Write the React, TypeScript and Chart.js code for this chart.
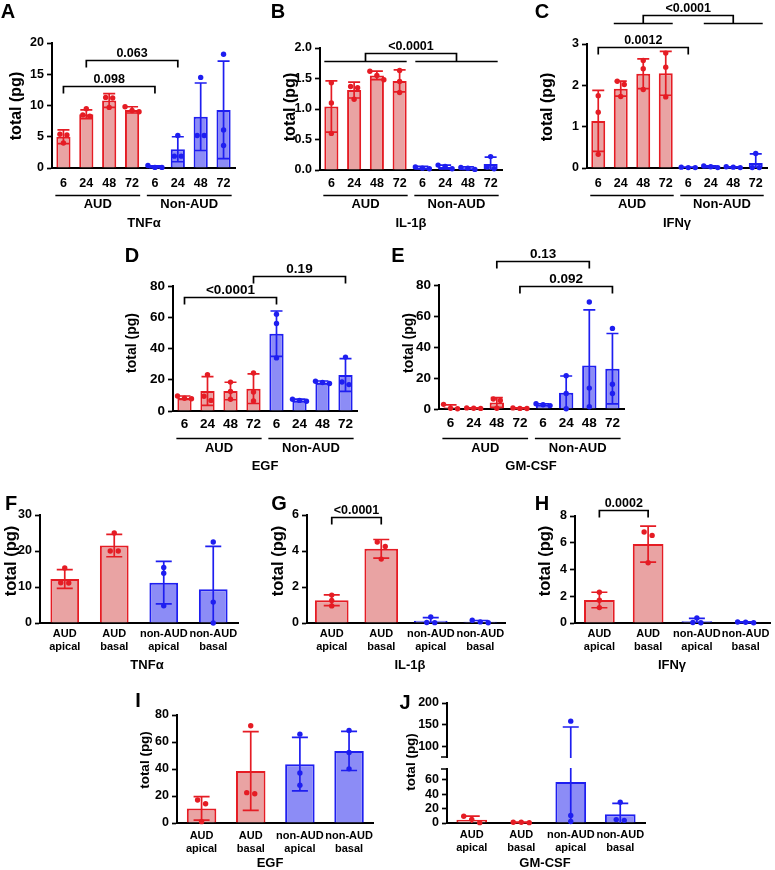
import React, { useEffect, useRef } from 'react';
import { Chart, registerables, LinearScale } from 'chart.js';

Chart.register(...registerables);

const FONT = "'Liberation Sans', Arial, Helvetica, sans-serif";
Chart.defaults.font.family = FONT;

const RED = 'rgb(229,28,36)';
const RED_FILL = 'rgb(233,163,163)';
const BLUE = 'rgb(30,30,240)';
const BLUE_FILL = 'rgb(140,140,246)';

// ---------- categories ----------
const timeCats = ['6', '24', '48', '72', '6', '24', '48', '72'];
const timeGroups = [0, 0, 0, 0, 1, 1, 1, 1];
const siteCats = [['AUD', 'apical'], ['AUD', 'basal'], ['non-AUD', 'apical'], ['non-AUD', 'basal']];
const siteGroups = [0, 0, 1, 1];
const groupNames = ['AUD', 'Non-AUD'];

// ---------- A: TNFα time course ----------
const aMeans = [5.0, 8.6, 10.8, 9.3, 0.2, 3.0, 8.2, 9.3];
const aSD = [1.1, 0.7, 1.1, 0.5, 0.15, 2.0, 5.4, 7.8];
const aPoints = [[5.3, 5.4, 4.0], [9.5, 8.5, 8.3], [11.3, 11.2, 9.7], [9.8, 9.2, 9.0], [0.4, 0.1, 0.1], [5.2, 1.9, 1.9], [14.5, 5.2, 5.2], [18.2, 6.1, 3.6]];
const aTicks = [0, 5, 10, 15, 20];

// ---------- B: IL-1β time course ----------
const bMeans = [1.04, 1.31, 1.55, 1.46, 0.04, 0.05, 0.03, 0.1];
const bSD = [0.42, 0.13, 0.07, 0.18, 0.02, 0.03, 0.02, 0.11];
const bPoints = [[1.43, 1.1, 0.6], [1.37, 1.35, 1.16], [1.62, 1.55, 1.48], [1.63, 1.45, 1.27], [0.05, 0.03, 0.02], [0.08, 0.06, 0.02], [0.04, 0.03, 0.01], [0.22, 0.05, 0.02]];
const bTicks = [0, 0.5, 1.0, 1.5, 2.0];

// ---------- C: IFNγ time course ----------
const cMeans = [1.14, 1.92, 2.28, 2.29, 0.01, 0.03, 0.02, 0.12];
const cSD = [0.74, 0.18, 0.36, 0.53, 0.01, 0.02, 0.01, 0.22];
const cPoints = [[1.75, 1.35, 0.33], [2.1, 2.02, 1.73], [2.6, 2.4, 1.9], [2.78, 2.44, 1.72], [0.02, 0.01, 0.01], [0.05, 0.03, 0.01], [0.03, 0.02, 0.01], [0.35, 0.01, 0.01]];
const cTicks = [0, 1, 2, 3];

// ---------- D: EGF time course ----------
const dMeans = [8.5, 12.8, 12.8, 14.3, 49.5, 6.8, 18.3, 23.0];
const dSD = [1.1, 9.2, 5.6, 9.5, 14.5, 0.8, 0.9, 10.5];
const dPoints = [[9.6, 8.2, 7.8], [23.3, 9.4, 6.8], [18.5, 12.5, 7.5], [24.4, 12.2, 6.4], [62, 56, 34], [7.5, 6.8, 6.2], [19, 18.2, 17.6], [34.5, 16.9, 18.6]];
const dTicks = [0, 20, 40, 60, 80];

// ---------- E: GM-CSF time course ----------
const eMeans = [1.2, 0.5, 4.2, 0.5, 2.8, 10.5, 28, 26];
const eSD = [1.5, 0.2, 3.2, 0.2, 0.6, 10.8, 36, 22.7];
const ePoints = [[3.0, 0.5, 0.2], [0.7, 0.5, 0.4], [6.5, 5.5, 0.5], [0.7, 0.4, 0.3], [3.4, 2.7, 2.2], [21.5, 10, 0.2], [69, 13.5, 1.5], [52, 16, 10]];
const eTicks = [0, 20, 40, 60, 80];

// ---------- F: TNFα apical/basal ----------
const fMeans = [12.2, 21.5, 11.2, 9.4];
const fSD = [2.6, 3.1, 5.9, 11.9];
const fPoints = [[15.3, 11.1, 11.2], [25, 20, 20], [15.4, 13.8, 4.8], [22.5, 5.8, 0]];
const fTicks = [0, 10, 20, 30];

// ---------- G: IL-1β apical/basal ----------
const gMeans = [1.26, 4.12, 0.13, 0.07];
const gSD = [0.3, 0.52, 0.17, 0.07];
const gPoints = [[1.55, 1.25, 0.95], [4.5, 4.25, 3.55], [0.33, 0.03, 0.02], [0.15, 0.06, 0.01]];
const gTicks = [0, 2, 4, 6];

// ---------- H: IFNγ apical/basal ----------
const hMeans = [1.72, 5.9, 0.14, 0.05];
const hSD = [0.58, 1.35, 0.2, 0.03];
const hPoints = [[2.3, 1.7, 1.15], [6.8, 6.55, 4.5], [0.38, 0.04, 0.02], [0.08, 0.06, 0.02]];
const hTicks = [0, 2, 4, 6, 8];

// ---------- I: EGF apical/basal ----------
const iMeans = [10.8, 38.5, 43.6, 53.4];
const iSD = [8.7, 29.2, 19.8, 14.5];
const iPoints = [[17, 14.3, 1], [72, 22.5, 21.7], [65.8, 37, 28], [68.6, 52.2, 40.1]];
const iTicks = [0, 20, 40, 60, 80];

// ---------- J: GM-CSF apical/basal (broken axis) ----------
const jMeans = [4.5, 0.8, 56.8, 12.3];
const jSD = [5.0, 0.3, 87.7, 15];
const jPoints = [[9.3, 5.1, 0.5], [1.1, 1.0, 0.5], [158, 10.5, 2], [28.8, 3.7, 4.7]];
const jTicks = [0, 20, 40, 60, 100, 150, 200];
const J_BREAK = 75;
const J_LOW_FRAC = 0.45;
const J_GAP_FRAC = 0.1;

class BrokenLinearScale extends LinearScale {
  static id = 'brokenLinear';
  static defaults = {};
  getPixelForValue(value: any) {
    if (value === null || value === undefined || isNaN(value)) return NaN;
    const min = (this as any).min, max = (this as any).max;
    const top = (this as any).top, bottom = (this as any).bottom;
    const h = bottom - top;
    const low = h * J_LOW_FRAC, gap = h * J_GAP_FRAC, high = h - low - gap;
    if (value <= J_BREAK) return bottom - ((value - min) / (J_BREAK - min)) * low;
    return bottom - low - gap - ((value - J_BREAK) / (max - J_BREAK)) * high;
  }
  getValueForPixel(pixel: number) {
    const min = (this as any).min, max = (this as any).max;
    const top = (this as any).top, bottom = (this as any).bottom;
    const h = bottom - top;
    const low = h * J_LOW_FRAC, gap = h * J_GAP_FRAC, high = h - low - gap;
    const d = bottom - pixel;
    if (d <= low) return min + (d / low) * (J_BREAK - min);
    return J_BREAK + ((d - low - gap) / high) * (max - J_BREAK);
  }
}
Chart.register(BrokenLinearScale as any);

type Bracket = { a: number; b: number; y: number; text: string };
type GroupBracket = { g1: [number, number]; g2: [number, number]; y1: number; y2: number; text: string };

type PanelDef = {
  letter: string;
  box: { x: number; y: number; w: number; h: number };
  area: { l: number; t: number; r: number; b: number };
  cats: any[];
  groups: number[];
  means: number[];
  sds: number[];
  points: number[][];
  ticks: number[];
  decimals: number;
  broken?: boolean;
  yTickSize: number;
  xTickSize: number;
  xPad: number;
  barPct: number;
  capHalf: number;
  swarmStep: number;
  letterPos: [number, number];
  titlePos: [number, number, number];
  cyto: [string, number, number];
  groupLine?: [number, number];
  brackets?: Bracket[];
  groupBrackets?: GroupBracket[];
};

const PANELS: PanelDef[] = [
  {
    letter: 'A', box: { x: 0, y: 0, w: 250, h: 235 }, area: { l: 52, t: 43, r: 235, b: 168 },
    cats: timeCats, groups: timeGroups, means: aMeans, sds: aSD, points: aPoints, ticks: aTicks, decimals: 0,
    yTickSize: 12.5, xTickSize: 12.5, xPad: 8, barPct: 0.62, capHalf: 6, swarmStep: 7,
    letterPos: [8, 11], titlePos: [16.5, 106, 16], cyto: ['TNFα', 144, 223], groupLine: [195, 203],
    brackets: [{ a: 1, b: 5, y: 17.3, text: '0.063' }, { a: 0, b: 4, y: 13.1, text: '0.098' }],
  },
  {
    letter: 'B', box: { x: 255, y: 0, w: 255, h: 235 }, area: { l: 320, t: 48, r: 502, b: 170 },
    cats: timeCats, groups: timeGroups, means: bMeans, sds: bSD, points: bPoints, ticks: bTicks, decimals: 1,
    yTickSize: 12.5, xTickSize: 12.5, xPad: 6, barPct: 0.62, capHalf: 6, swarmStep: 7,
    letterPos: [278, 11], titlePos: [291, 107, 16], cyto: ['IL-1β', 411, 223], groupLine: [195, 203],
    groupBrackets: [{ g1: [0, 3], g2: [4, 7], y1: 1.787, y2: 1.918, text: '<0.0001' }],
  },
  {
    letter: 'C', box: { x: 510, y: 0, w: 265, h: 235 }, area: { l: 587, t: 44, r: 767, b: 168 },
    cats: timeCats, groups: timeGroups, means: cMeans, sds: cSD, points: cPoints, ticks: cTicks, decimals: 0,
    yTickSize: 12.5, xTickSize: 12.5, xPad: 8, barPct: 0.62, capHalf: 6, swarmStep: 7,
    letterPos: [542, 11], titlePos: [548, 107, 16], cyto: ['IFNγ', 677, 223], groupLine: [195, 203],
    brackets: [{ a: 0, b: 4, y: 2.93, text: '0.0012' }],
    groupBrackets: [{ g1: [1, 3], g2: [5, 7], y1: 3.51, y2: 3.7, text: '<0.0001' }],
  },
  {
    letter: 'D', box: { x: 120, y: 240, w: 250, h: 235 }, area: { l: 173, t: 286, r: 357, b: 411 },
    cats: timeCats, groups: timeGroups, means: dMeans, sds: dSD, points: dPoints, ticks: dTicks, decimals: 0,
    yTickSize: 13.5, xTickSize: 13.5, xPad: 5.5, barPct: 0.62, capHalf: 6, swarmStep: 7,
    letterPos: [132, 255], titlePos: [132, 343, 14], cyto: ['EGF', 265, 466], groupLine: [438, 447],
    brackets: [{ a: 0, b: 4, y: 73, text: '<0.0001' }, { a: 3, b: 7, y: 86.4, text: '0.19' }],
  },
  {
    letter: 'E', box: { x: 385, y: 240, w: 250, h: 235 }, area: { l: 439, t: 285, r: 624, b: 409 },
    cats: timeCats, groups: timeGroups, means: eMeans, sds: eSD, points: ePoints, ticks: eTicks, decimals: 0,
    yTickSize: 13.5, xTickSize: 13.5, xPad: 7, barPct: 0.62, capHalf: 6, swarmStep: 7,
    letterPos: [398, 255], titlePos: [409, 343, 14], cyto: ['GM-CSF', 531, 466], groupLine: [438, 447],
    brackets: [{ a: 2, b: 6, y: 95.5, text: '0.13' }, { a: 3, b: 7, y: 79.4, text: '0.092' }],
  },
  {
    letter: 'F', box: { x: 0, y: 490, w: 250, h: 185 }, area: { l: 40, t: 515, r: 238, b: 623 },
    cats: siteCats, groups: siteGroups, means: fMeans, sds: fSD, points: fPoints, ticks: fTicks, decimals: 0,
    yTickSize: 12.5, xTickSize: 11, xPad: 4.5, barPct: 0.58, capHalf: 8, swarmStep: 8,
    letterPos: [11, 503], titlePos: [11, 561, 16.5], cyto: ['TNFα', 147, 665],
  },
  {
    letter: 'G', box: { x: 255, y: 490, w: 255, h: 185 }, area: { l: 307, t: 515, r: 505, b: 623 },
    cats: siteCats, groups: siteGroups, means: gMeans, sds: gSD, points: gPoints, ticks: gTicks, decimals: 0,
    yTickSize: 12.5, xTickSize: 11, xPad: 4.5, barPct: 0.68, capHalf: 8, swarmStep: 8,
    letterPos: [279, 503], titlePos: [278, 561, 16.5], cyto: ['IL-1β', 410, 665],
    brackets: [{ a: 0, b: 1, y: 5.89, text: '<0.0001' }],
  },
  {
    letter: 'H', box: { x: 510, y: 490, w: 265, h: 185 }, area: { l: 575, t: 516, r: 770, b: 623 },
    cats: siteCats, groups: siteGroups, means: hMeans, sds: hSD, points: hPoints, ticks: hTicks, decimals: 0,
    yTickSize: 12.5, xTickSize: 11, xPad: 4.5, barPct: 0.63, capHalf: 8, swarmStep: 8,
    letterPos: [542, 503], titlePos: [545, 561, 16.5], cyto: ['IFNγ', 672, 665],
    brackets: [{ a: 0, b: 1, y: 8.45, text: '0.0002' }],
  },
  {
    letter: 'I', box: { x: 120, y: 690, w: 260, h: 180 }, area: { l: 177, t: 715, r: 375, b: 823 },
    cats: siteCats, groups: siteGroups, means: iMeans, sds: iSD, points: iPoints, ticks: iTicks, decimals: 0,
    yTickSize: 12.5, xTickSize: 11, xPad: 6.5, barPct: 0.6, capHalf: 8, swarmStep: 8,
    letterPos: [138, 700], titlePos: [145, 760, 13.5], cyto: ['EGF', 270, 863],
  },
  {
    letter: 'J', box: { x: 385, y: 690, w: 270, h: 180 }, area: { l: 447, t: 703, r: 645, b: 823 },
    cats: siteCats, groups: siteGroups, means: jMeans, sds: jSD, points: jPoints, ticks: jTicks, decimals: 0,
    broken: true,
    yTickSize: 12.5, xTickSize: 11, xPad: 5.5, barPct: 0.62, capHalf: 8, swarmStep: 8,
    letterPos: [405, 702], titlePos: [411, 762, 13.5], cyto: ['GM-CSF', 545, 863],
  },
];

function swarmOffsets(ys: number[], step: number, thr: number): number[] {
  const idx = ys.map((_, i) => i).sort((a, b) => ys[a] - ys[b]);
  const offs = new Array(ys.length).fill(0);
  let cluster: number[] = [];
  const flush = () => {
    const n = cluster.length;
    cluster.forEach((k, j) => { offs[k] = (j - (n - 1) / 2) * step; });
    cluster = [];
  };
  for (const i of idx) {
    if (cluster.length && ys[i] - ys[cluster[cluster.length - 1]] > thr) flush();
    cluster.push(i);
  }
  flush();
  return offs;
}

function buildChart(canvas: HTMLCanvasElement, p: PanelDef) {
  const yw = p.area.l - p.box.x;
  const xh = p.box.y + p.box.h - p.area.b;
  const padTop = p.area.t - p.box.y;
  const padRight = p.box.x + p.box.w - p.area.r;
  const lineCols = p.groups.map((g) => (g === 0 ? RED : BLUE));
  const fillCols = p.groups.map((g) => (g === 0 ? RED_FILL : BLUE_FILL));
  const ox = p.box.x, oy = p.box.y;
  const bold = (s: number) => `bold ${s}px ${FONT}`;

  const overlay = {
    id: 'overlay' + p.letter,
    afterDraw(chart: any) {
      const ctx = chart.ctx;
      const xs = chart.scales.x, ys = chart.scales.y;
      const area = chart.chartArea;
      const meta = chart.getDatasetMeta(0);
      const barHalf = meta.data[0] ? meta.data[0].width / 2 : 7;
      const cx = (i: number) => xs.getPixelForTick(i);

      // error bars
      ctx.save();
      ctx.lineWidth = 1.7;
      ctx.lineCap = 'butt';
      p.means.forEach((m, i) => {
        const sd = p.sds[i];
        const x = cx(i);
        const hiV = m + sd;
        const loV = m - sd;
        const yHi = ys.getPixelForValue(hiV);
        const yLo = ys.getPixelForValue(Math.max(loV, ys.min));
        ctx.strokeStyle = lineCols[i];
        ctx.beginPath();
        ctx.moveTo(x, yHi);
        ctx.lineTo(x, yLo);
        ctx.moveTo(x - p.capHalf, yHi);
        ctx.lineTo(x + p.capHalf, yHi);
        if (loV > ys.min) {
          ctx.moveTo(x - p.capHalf, yLo);
          ctx.lineTo(x + p.capHalf, yLo);
        }
        ctx.stroke();
      });
      // points
      p.points.forEach((pts, i) => {
        const pys = pts.map((v) => ys.getPixelForValue(v));
        const offs = swarmOffsets(pys, p.swarmStep, 4.5);
        ctx.fillStyle = lineCols[i];
        pys.forEach((py, k) => {
          ctx.beginPath();
          ctx.arc(cx(i) + offs[k], py, 2.7, 0, Math.PI * 2);
          ctx.fill();
        });
      });
      ctx.restore();

      // broken axis gap
      if (p.broken) {
        const yLowTop = ys.getPixelForValue(J_BREAK);
        const h = area.bottom - area.top;
        const gap = h * J_GAP_FRAC;
        const yHighBot = yLowTop - gap;
        ctx.clearRect(area.left - 2, yHighBot + 1, area.right - area.left + 4, gap - 2);
        ctx.save();
        ctx.strokeStyle = '#000';
        ctx.lineWidth = 1.6;
        ctx.beginPath();
        ctx.moveTo(area.left - 6, yLowTop);
        ctx.lineTo(area.left + 1, yLowTop);
        ctx.moveTo(area.left - 6, yHighBot);
        ctx.lineTo(area.left + 1, yHighBot);
        ctx.stroke();
        ctx.restore();
      }

      ctx.save();
      ctx.strokeStyle = '#000';
      ctx.fillStyle = '#000';
      ctx.lineWidth = 1.7;
      ctx.textAlign = 'center';
      ctx.font = bold(p.yTickSize);

      // pairwise brackets
      (p.brackets || []).forEach((b) => {
        const y = Math.round(ys.getPixelForValue(b.y)) + 0.5;
        const x1 = cx(b.a), x2 = cx(b.b);
        ctx.beginPath();
        ctx.moveTo(x1, y + 7);
        ctx.lineTo(x1, y);
        ctx.lineTo(x2, y);
        ctx.lineTo(x2, y + 7);
        ctx.stroke();
        ctx.textBaseline = 'alphabetic';
        ctx.fillText(b.text, (x1 + x2) / 2, y - 4);
      });
      // group-vs-group brackets
      (p.groupBrackets || []).forEach((g) => {
        const y1 = Math.round(ys.getPixelForValue(g.y1)) + 0.5;
        const y2 = Math.round(ys.getPixelForValue(g.y2)) + 0.5;
        const a1 = cx(g.g1[0]) - barHalf, a2 = cx(g.g1[1]) + barHalf;
        const b1 = cx(g.g2[0]) - barHalf, b2 = cx(g.g2[1]) + barHalf;
        const m1 = (a1 + a2) / 2, m2 = (b1 + b2) / 2;
        ctx.beginPath();
        ctx.moveTo(a1, y1); ctx.lineTo(a2, y1);
        ctx.moveTo(b1, y1); ctx.lineTo(b2, y1);
        ctx.moveTo(m1, y1); ctx.lineTo(m1, y2); ctx.lineTo(m2, y2); ctx.lineTo(m2, y1);
        ctx.stroke();
        ctx.textBaseline = 'alphabetic';
        ctx.fillText(g.text, (m1 + m2) / 2, y2 - 4);
      });

      // group underlines + names
      if (p.groupLine) {
        const ly = p.groupLine[0] - oy + 0.5;
        const ty = p.groupLine[1] - oy;
        [0, 1].forEach((g) => {
          const members = p.groups.map((gg, i) => (gg === g ? i : -1)).filter((i) => i >= 0);
          const x1 = cx(members[0]) - barHalf - 1;
          const x2 = cx(members[members.length - 1]) + barHalf + 1;
          ctx.beginPath();
          ctx.moveTo(x1, ly); ctx.lineTo(x2, ly);
          ctx.stroke();
          ctx.font = bold(13);
          ctx.textBaseline = 'middle';
          ctx.fillText(groupNames[g], (x1 + x2) / 2, ty + 1);
        });
      }
      // cytokine name
      ctx.font = bold(13);
      ctx.textBaseline = 'middle';
      ctx.fillText(p.cyto[0], p.cyto[1] - ox, p.cyto[2] - oy);
      // panel letter
      ctx.font = bold(20);
      ctx.fillText(p.letter, p.letterPos[0] - ox, p.letterPos[1] - oy + 1);
      // y-axis title
      ctx.save();
      ctx.translate(p.titlePos[0] - ox, p.titlePos[1] - oy);
      ctx.rotate(-Math.PI / 2);
      ctx.font = bold(p.titlePos[2]);
      ctx.fillText('total (pg)', 0, 0);
      ctx.restore();
      ctx.restore();
    },
  };

  const yScale: any = {
    type: p.broken ? 'brokenLinear' : 'linear',
    min: p.ticks[0],
    max: p.ticks[p.ticks.length - 1],
    z: 1,
    ticks: {
      color: '#000',
      font: { size: p.yTickSize, weight: 'bold', family: FONT },
      padding: 3,
      autoSkip: false,
      callback: (v: any) => Number(v).toFixed(p.decimals),
    },
    grid: { display: true, drawOnChartArea: false, drawTicks: true, tickLength: 5, tickWidth: 1.7, tickColor: '#000' },
    border: { display: true, color: '#000', width: 2 },
    afterBuildTicks: (s: any) => { s.ticks = p.ticks.map((v) => ({ value: v })); },
    afterFit: (s: any) => { s.width = yw; },
  };

  return new Chart(canvas, {
    type: 'bar',
    data: {
      labels: p.cats,
      datasets: [{
        data: p.means,
        backgroundColor: fillCols,
        borderColor: lineCols,
        borderWidth: 2,
        barPercentage: p.barPct,
        categoryPercentage: 1,
      }],
    },
    options: {
      responsive: false,
      maintainAspectRatio: false,
      animation: false,
      events: [],
      layout: { padding: { left: 0, top: padTop, right: padRight, bottom: 0 } },
      plugins: { legend: { display: false }, tooltip: { enabled: false }, title: { display: false } },
      scales: {
        x: {
          type: 'category',
          offset: true,
          z: 1,
          grid: { display: false, drawTicks: false, tickLength: 0 },
          border: { display: true, color: '#000', width: 2 },
          ticks: {
            color: '#000',
            font: { size: p.xTickSize, weight: 'bold', family: FONT, lineHeight: 1.15 },
            padding: p.xPad,
            maxRotation: 0,
            minRotation: 0,
            autoSkip: false,
          },
          afterFit: (s: any) => { s.height = xh; },
        },
        y: yScale,
      },
    } as any,
    plugins: [overlay as any],
  });
}

function Panel({ def }: { def: PanelDef }) {
  const ref = useRef<HTMLCanvasElement>(null);
  useEffect(() => {
    const chart = buildChart(ref.current as HTMLCanvasElement, def);
    return () => chart.destroy();
  }, [def]);
  return (
    <canvas
      ref={ref}
      width={def.box.w}
      height={def.box.h}
      style={{ position: 'absolute', left: def.box.x, top: def.box.y, width: def.box.w, height: def.box.h }}
    />
  );
}

export default function App() {
  return (
    <div style={{ position: 'absolute', left: 0, top: 0, width: 775, height: 870, background: '#fff', overflow: 'hidden' }}>
      {PANELS.map((d) => <Panel key={d.letter} def={d} />)}
    </div>
  );
}
